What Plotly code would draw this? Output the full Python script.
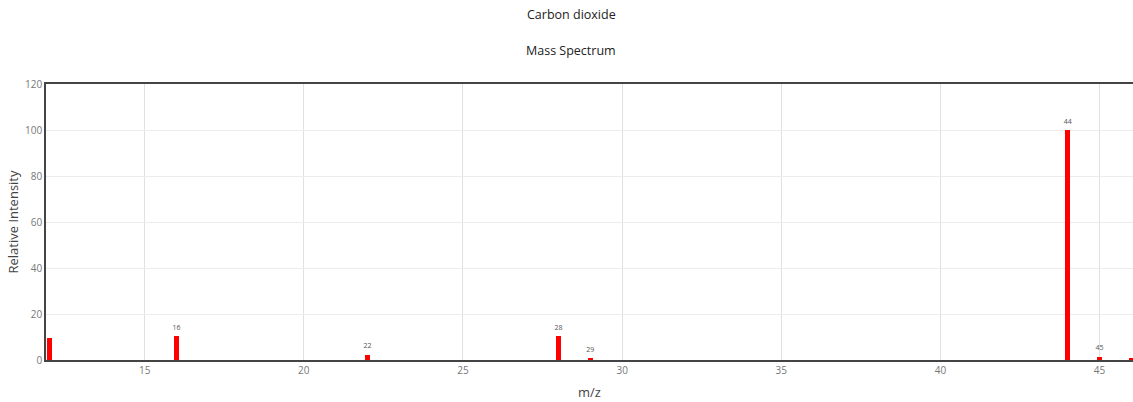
import plotly.graph_objects as go

mz = [12, 16, 22, 28, 29, 44, 45, 46]
intensity = [9.5, 10.4, 2.2, 10.4, 0.7, 100.0, 1.5, 0.7]
peak_labels = ["", "16", "22", "28", "29", "44", "45", ""]

fig = go.Figure()
fig.add_trace(go.Bar(
    x=mz, y=intensity, width=0.15,
    marker=dict(color="#ff0000", line=dict(width=0)),
    hoverinfo="x+y",
))
fig.add_trace(go.Scatter(
    x=mz, y=intensity, mode="markers+text", text=peak_labels,
    textposition="top center",
    marker=dict(size=6, opacity=0),
    textfont=dict(size=7, color="#555", family="Open Sans"),
    cliponaxis=False, hoverinfo="skip",
))

fig.update_layout(
    width=1133, height=402,
    margin=dict(l=46, r=0, t=84, b=42, autoexpand=False),
    paper_bgcolor="white", plot_bgcolor="white",
    showlegend=False,
    font=dict(family="Open Sans", color="#444"),
    bargap=0,
    annotations=[
        dict(text="Carbon dioxide", x=0.483, y=1, xref="paper", yref="paper",
             yanchor="middle", yshift=70, showarrow=False,
             font=dict(size=12.5, color="#222")),
        dict(text="Mass Spectrum", x=0.483, y=1, xref="paper", yref="paper",
             yanchor="middle", yshift=34, showarrow=False,
             font=dict(size=12.5, color="#222")),
    ],
)

fig.update_xaxes(
    range=[11.9, 46.05], tickvals=[15, 20, 25, 30, 35, 40, 45],
    showgrid=True, gridcolor="#e0e0e0", gridwidth=1,
    showline=True, linecolor="#444", linewidth=1.5, mirror=True,
    ticks="", tickfont=dict(size=10, color="#777"),
    title=dict(text="m/z", font=dict(size=13, color="#444"), standoff=12),
    zeroline=False, automargin=False,
)
fig.update_yaxes(
    range=[0, 120], tickvals=[0, 20, 40, 60, 80, 100, 120],
    showgrid=True, gridcolor="#ececec", gridwidth=1,
    showline=True, linecolor="#444", linewidth=1.5, mirror=True,
    ticks="", tickfont=dict(size=10, color="#777"),
    title=dict(text="Relative Intensity", font=dict(size=13, color="#444"), standoff=4),
    zeroline=False, automargin=False,
)

fig.write_html(
    "out.html",
    config={"responsive": False, "displayModeBar": False},
    post_script="document.body.style.margin='0';document.body.style.overflow='hidden';",
)
